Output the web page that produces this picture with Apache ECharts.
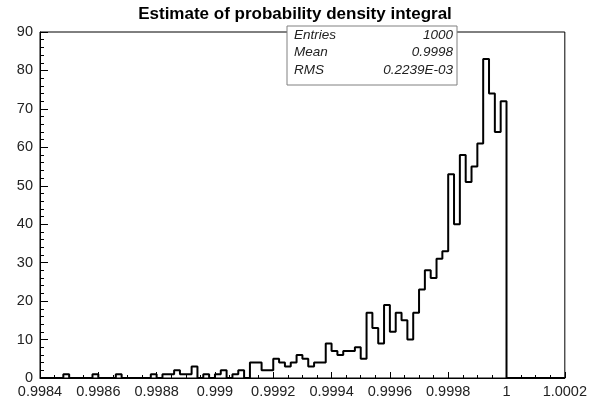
<!DOCTYPE html>
<html>
<head>
<meta charset="utf-8">
<script src="https://cdn.jsdelivr.net/npm/echarts@6/dist/echarts.min.js"></script>
<style>
  html, body { margin: 0; padding: 0; background: #fff; }
  #chart { width: 590px; height: 405px; }
</style>
</head>
<body>
<div id="chart"></div>
<script>
// Histogram binning: 80 filled bins of width 2e-5 starting at 0.9984
const histLow = 0.9984;
const binWidth = 0.00002;
const counts = [
  0, 0, 0, 0, 1, 0, 0, 0, 0, 1,
  0, 0, 0, 1, 0, 0, 0, 0, 0, 1,
  0, 1, 1, 2, 1, 1, 3, 0, 1, 0,
  1, 2, 0, 1, 2, 0, 4, 4, 2, 2,
  5, 4, 3, 4, 6, 5, 3, 4, 4, 9,
  7, 6, 7, 7, 8, 5, 17, 13, 9, 19,
  12, 17, 15, 10, 17, 23, 28, 26, 31, 33,
  53, 40, 58, 51, 55, 61, 83, 74, 64, 72
];

const xTickLabels = ['0.9984', '0.9986', '0.9988', '0.999', '0.9992', '0.9994', '0.9996', '0.9998', '1', '1.0002'];
const yTickLabels = ['0', '10', '20', '30', '40', '50', '60', '70', '80', '90'];

const statNames = ['Entries', 'Mean', 'RMS'];
const statValues = ['1000', '0.9998', '0.2239E-03'];

const titleText = 'Estimate of probability density integral';

// Step outline: each point is a bin's low edge with its count
const outline = counts.map((c, i) => [histLow + i * binWidth, c]);
outline.push([histLow + counts.length * binWidth, 0]);
outline.push([1.0002, 0]);

const font = '"Liberation Sans", Arial, Helvetica, sans-serif';

const chart = echarts.init(document.getElementById('chart'), null, { renderer: 'canvas' });

const statGraphics = [];
statGraphics.push({
  type: 'rect',
  shape: { x: 287, y: 26, width: 170, height: 59 },
  style: { fill: '#fff', stroke: '#808080', lineWidth: 1 },
  z: 100
});
statNames.forEach((name, i) => {
  const y = 35 + i * 17.5;
  statGraphics.push({
    type: 'text', x: 294, y: y, z: 101,
    style: { text: name, font: 'italic 13.5px ' + font, fill: '#222', textVerticalAlign: 'middle', textAlign: 'left' }
  });
  statGraphics.push({
    type: 'text', x: 453, y: y, z: 101,
    style: { text: statValues[i], font: 'italic 13.5px ' + font, fill: '#222', textVerticalAlign: 'middle', textAlign: 'right' }
  });
});

chart.setOption({
  animation: false,
  backgroundColor: '#fff',
  title: {
    text: titleText,
    left: 'center',
    top: 1,
    textStyle: { fontFamily: font, fontWeight: 'bold', fontSize: 17, color: '#000' }
  },
  grid: {
    left: 40, right: 22, top: 32, bottom: 27,
    show: true, borderColor: '#000', borderWidth: 1, backgroundColor: 'transparent'
  },
  xAxis: {
    type: 'value',
    min: 0.9984,
    max: 1.0002,
    interval: 0.0002,
    axisLine: { show: true, onZero: false, lineStyle: { color: '#000', width: 1 } },
    axisTick: { show: true, inside: true, length: 6, lineStyle: { color: '#000' } },
    minorTick: { show: true, splitNumber: 4, length: 3, lineStyle: { color: '#000' } },
    splitLine: { show: false },
    axisLabel: {
      margin: 6,
      fontFamily: font, fontSize: 14.5, color: '#222',
      showMinLabel: true, showMaxLabel: true,
      formatter: (v, i) => xTickLabels[i]
    }
  },
  yAxis: {
    type: 'value',
    min: 0,
    max: 90,
    interval: 10,
    axisLine: { show: true, lineStyle: { color: '#000', width: 1 } },
    axisTick: { show: true, inside: true, length: 8, lineStyle: { color: '#000' } },
    minorTick: { show: true, splitNumber: 5, length: 4, lineStyle: { color: '#000' } },
    splitLine: { show: false },
    axisLabel: {
      margin: 7,
      fontFamily: font, fontSize: 14.5, color: '#222',
      formatter: (v, i) => yTickLabels[i]
    }
  },
  series: [{
    type: 'line',
    step: 'end',
    data: outline,
    symbol: 'none',
    clip: true,
    lineStyle: { color: '#000', width: 2 },
    z: 10
  }],
  graphic: statGraphics
});
</script>
</body>
</html>
